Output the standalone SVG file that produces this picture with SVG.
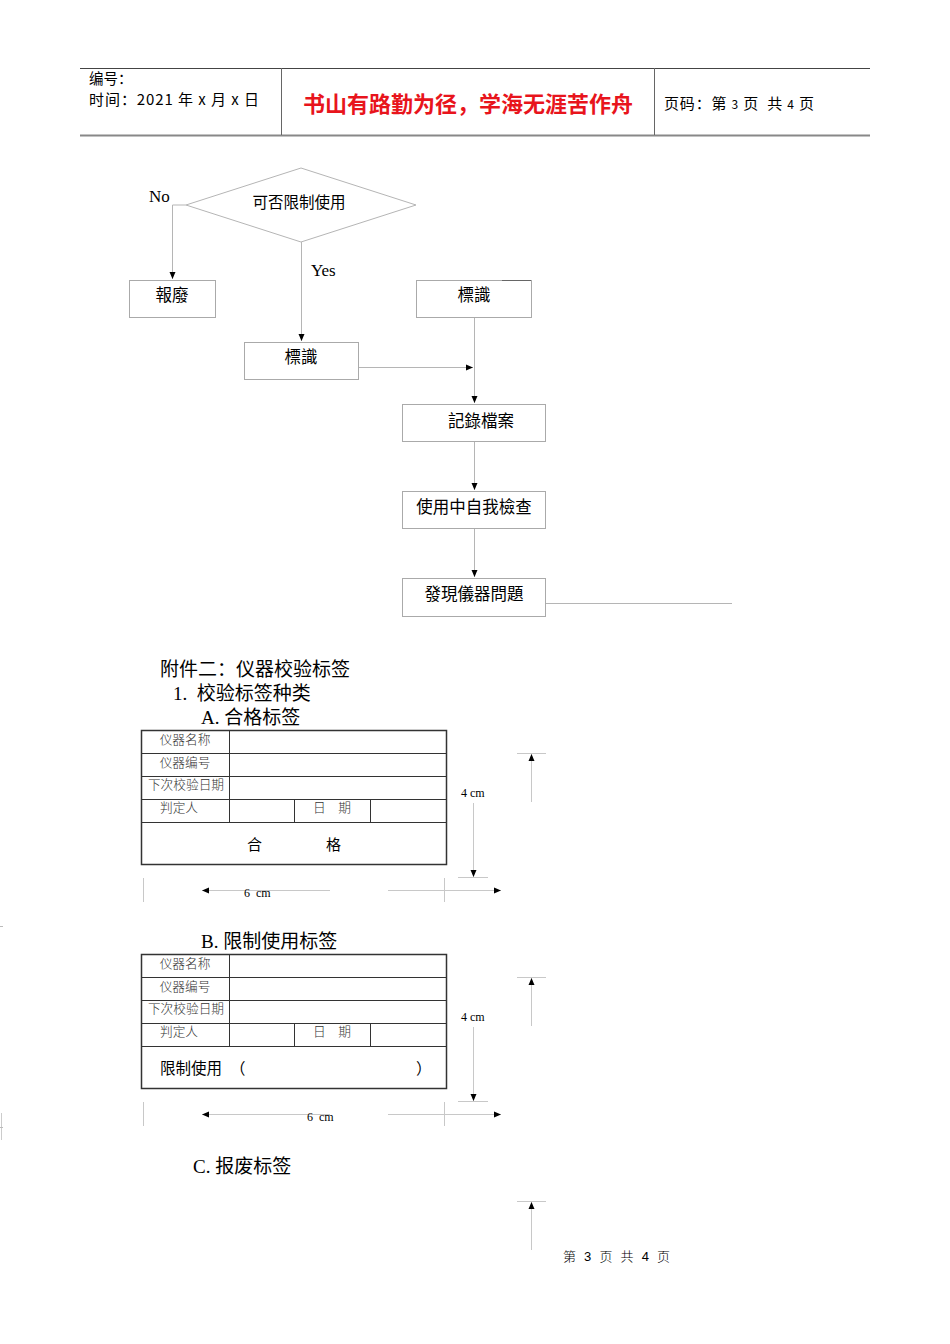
<svg xmlns="http://www.w3.org/2000/svg" width="950" height="1344" viewBox="0 0 950 1344">
<style>
.sans{font-family:"Liberation Sans","Noto Sans CJK SC",sans-serif;fill:#000}
.cjk{font-family:"Noto Sans CJK SC",sans-serif;fill:#000}
.cjktc{font-family:"Noto Sans CJK TC",sans-serif;fill:#000}
.serif{font-family:"Liberation Serif","Noto Sans CJK SC",serif;fill:#000}
.box{fill:#fff;stroke:#aaa;stroke-width:1}
.conn{fill:none;stroke:#b5b5b5;stroke-width:1}
.tbl{fill:none;stroke:#333;stroke-width:1}
.dim{fill:none;stroke:#c8c8c8;stroke-width:1}
.cell{font-family:"Noto Sans CJK SC",sans-serif;font-size:12.7px;fill:#333;font-weight:300}
.pre{white-space:pre}
</style>
<defs>
<marker id="ah" markerWidth="8" markerHeight="8" refX="7" refY="4" orient="auto" markerUnits="userSpaceOnUse">
<path d="M0,1 L7,4 L0,7 Z" fill="#000"/>
</marker>
</defs>
<rect x="0" y="0" width="950" height="1344" fill="#fff"/>

<g id="header">
<line x1="80" y1="68.5" x2="870" y2="68.5" stroke="#444" stroke-width="1"/>
<line x1="80" y1="135.5" x2="870" y2="135.5" stroke="#888" stroke-width="2"/>
<line x1="281.5" y1="68" x2="281.5" y2="135" stroke="#666" stroke-width="1"/>
<line x1="654.5" y1="68" x2="654.5" y2="135" stroke="#666" stroke-width="1"/>
<text class="cjk" x="89" y="84" font-size="14.5">编号：</text>
<text class="cjk pre" x="89" y="105" font-size="15" xml:space="preserve" textLength="170" lengthAdjust="spacing">时间：2021 年 x 月 x 日</text>
<text x="468" y="112" font-size="22" text-anchor="middle" font-family="Noto Sans CJK SC,sans-serif" font-weight="bold" fill="#e8141c">书山有路勤为径，学海无涯苦作舟</text>
<text class="cjk pre" x="664" y="109" font-size="15" xml:space="preserve" textLength="150" lengthAdjust="spacing">页码：第 <tspan font-size="12">3</tspan> 页  共 <tspan font-size="12">4</tspan> 页</text>
</g>

<g id="connectors">
<polyline class="conn" points="186,205 172.5,205 172.5,279" marker-end="url(#ah)"/>
<line class="conn" x1="301.5" y1="242" x2="301.5" y2="341" marker-end="url(#ah)"/>
<line class="conn" x1="358" y1="367.5" x2="473" y2="367.5" marker-end="url(#ah)"/>
<line class="conn" x1="474.5" y1="317" x2="474.5" y2="403" marker-end="url(#ah)"/>
<line class="conn" x1="474.5" y1="441" x2="474.5" y2="490" marker-end="url(#ah)"/>
<line class="conn" x1="474.5" y1="528" x2="474.5" y2="577" marker-end="url(#ah)"/>
<line class="conn" x1="545" y1="603.5" x2="732" y2="603.5"/>
<text class="serif" x="149" y="202" font-size="17">No</text>
<text class="serif" x="311" y="276" font-size="17">Yes</text>
</g>

<g id="decision">
<polygon points="301,168 416,205 301,242 186,205" fill="#fff" stroke="#b5b5b5" stroke-width="1"/>
<text class="cjktc" x="299" y="208" font-size="15.5" text-anchor="middle">可否限制使用</text>
</g>

<g id="scrap">
<rect class="box" x="129.5" y="280.5" width="86" height="37"/>
<text class="cjktc" x="172" y="301" font-size="16.5" text-anchor="middle">報廢</text>
</g>

<g id="mark-left">
<rect class="box" x="244.5" y="342.5" width="114" height="37"/>
<text class="cjktc" x="301" y="363" font-size="16.5" text-anchor="middle">標識</text>
</g>

<g id="mark-right">
<rect class="box" x="416.5" y="280.5" width="115" height="37"/>
<line x1="502" y1="280.5" x2="531" y2="280.5" stroke="#666" stroke-width="1"/>
<text class="cjktc" x="474" y="301" font-size="16.5" text-anchor="middle">標識</text>
</g>

<g id="record">
<rect class="box" x="402.5" y="404.5" width="143" height="37"/>
<text class="cjktc" x="481" y="427" font-size="16.5" text-anchor="middle">記錄檔案</text>
</g>

<g id="selfcheck">
<rect class="box" x="402.5" y="491.5" width="143" height="37"/>
<text class="cjktc" x="474" y="513" font-size="16.5" text-anchor="middle">使用中自我檢查</text>
</g>

<g id="problem">
<rect class="box" x="402.5" y="578.5" width="143" height="38"/>
<text class="cjktc" x="474" y="600" font-size="16.5" text-anchor="middle">發現儀器問題</text>
</g>

<g id="section">
<text class="serif" x="160" y="676" font-size="19">附件二：仪器校验标签</text>
<text class="serif pre" x="173" y="700" font-size="19" xml:space="preserve">1.  校验标签种类</text>
<text class="serif" x="201" y="724" font-size="19">A. 合格标签</text>
</g>

<g id="label-a">
<rect x="141.5" y="730.5" width="305" height="134" fill="none" stroke="#333" stroke-width="1.5"/>
<line class="tbl" x1="141" y1="753.5" x2="446" y2="753.5"/>
<line class="tbl" x1="141" y1="776.5" x2="446" y2="776.5"/>
<line class="tbl" x1="141" y1="799.5" x2="446" y2="799.5"/>
<line class="tbl" x1="141" y1="822.5" x2="446" y2="822.5"/>
<line class="tbl" x1="229.5" y1="730" x2="229.5" y2="822"/>
<line class="tbl" x1="294.5" y1="799" x2="294.5" y2="822"/>
<line class="tbl" x1="370.5" y1="799" x2="370.5" y2="822"/>
<text class="cell" x="185" y="744" text-anchor="middle">仪器名称</text>
<text class="cell" x="185" y="767" text-anchor="middle">仪器编号</text>
<text class="cell" x="186" y="789" text-anchor="middle">下次校验日期</text>
<text class="cell" x="179" y="812" text-anchor="middle">判定人</text>
<text class="cell" x="332" y="812" text-anchor="middle">日　期</text>
<text class="cjk" x="247" y="850" font-size="15" fill="#333">合</text>
<text class="cjk" x="326" y="850" font-size="15" fill="#333">格</text>
</g>

<g id="dims-a">
<line class="dim" x1="143.5" y1="878" x2="143.5" y2="902"/>
<line class="dim" x1="444.5" y1="878" x2="444.5" y2="902"/>
<line class="dim" x1="330" y1="890.5" x2="202" y2="890.5" marker-end="url(#ah)"/>
<line class="dim" x1="388" y1="890.5" x2="501" y2="890.5" marker-end="url(#ah)"/>
<text class="serif pre" x="244" y="897" font-size="12" xml:space="preserve">6  cm</text>
<text class="serif" x="461" y="797" font-size="12">4 cm</text>
<line class="dim" x1="473.5" y1="803" x2="473.5" y2="877" marker-end="url(#ah)"/>
<line class="dim" x1="458" y1="877.5" x2="488" y2="877.5"/>
<line class="dim" x1="531.5" y1="802" x2="531.5" y2="754" marker-end="url(#ah)"/>
<line class="dim" x1="517" y1="753.5" x2="546" y2="753.5"/>
</g>

<g id="heading-b">
<text class="serif" x="201" y="948" font-size="19">B. 限制使用标签</text>
</g>

<g id="label-b">
<rect x="141.5" y="954.5" width="305" height="134" fill="none" stroke="#333" stroke-width="1.5"/>
<line class="tbl" x1="141" y1="977.5" x2="446" y2="977.5"/>
<line class="tbl" x1="141" y1="1000.5" x2="446" y2="1000.5"/>
<line class="tbl" x1="141" y1="1023.5" x2="446" y2="1023.5"/>
<line class="tbl" x1="141" y1="1046.5" x2="446" y2="1046.5"/>
<line class="tbl" x1="229.5" y1="954" x2="229.5" y2="1046"/>
<line class="tbl" x1="294.5" y1="1023" x2="294.5" y2="1046"/>
<line class="tbl" x1="370.5" y1="1023" x2="370.5" y2="1046"/>
<text class="cell" x="185" y="968" text-anchor="middle">仪器名称</text>
<text class="cell" x="185" y="991" text-anchor="middle">仪器编号</text>
<text class="cell" x="186" y="1013" text-anchor="middle">下次校验日期</text>
<text class="cell" x="179" y="1036" text-anchor="middle">判定人</text>
<text class="cell" x="332" y="1036" text-anchor="middle">日　期</text>
<text class="cjk" x="160" y="1074" font-size="15.5" fill="#333">限制使用</text>
<text class="cjk" x="230" y="1074" font-size="15.5" fill="#333">（</text>
<text class="cjk" x="416" y="1074" font-size="15.5" fill="#333">）</text>
</g>

<g id="dims-b">
<line class="dim" x1="143.5" y1="1102" x2="143.5" y2="1126"/>
<line class="dim" x1="444.5" y1="1102" x2="444.5" y2="1126"/>
<line class="dim" x1="330" y1="1114.5" x2="202" y2="1114.5" marker-end="url(#ah)"/>
<line class="dim" x1="388" y1="1114.5" x2="501" y2="1114.5" marker-end="url(#ah)"/>
<text class="serif pre" x="307" y="1121" font-size="12" xml:space="preserve">6  cm</text>
<text class="serif" x="461" y="1021" font-size="12">4 cm</text>
<line class="dim" x1="473.5" y1="1027" x2="473.5" y2="1101" marker-end="url(#ah)"/>
<line class="dim" x1="458" y1="1101.5" x2="488" y2="1101.5"/>
<line class="dim" x1="531.5" y1="1026" x2="531.5" y2="978" marker-end="url(#ah)"/>
<line class="dim" x1="517" y1="977.5" x2="546" y2="977.5"/>
</g>

<g id="heading-c">
<text class="serif" x="193" y="1173" font-size="19">C. 报废标签</text>
<line class="dim" x1="531.5" y1="1250" x2="531.5" y2="1202" marker-end="url(#ah)"/>
<line class="dim" x1="517" y1="1201.5" x2="546" y2="1201.5"/>
</g>

<g id="margin-marks">
<line x1="0" y1="926.5" x2="3" y2="926.5" stroke="#bbb" stroke-width="1"/>
<line x1="1.5" y1="1113" x2="1.5" y2="1140" stroke="#ccc" stroke-width="1"/>
<line x1="0" y1="1127.5" x2="3" y2="1127.5" stroke="#bbb" stroke-width="1"/>
</g>

<g id="footer">
<text class="cjk pre" x="563" y="1261" font-size="13" fill="#444" font-weight="300" xml:space="preserve" textLength="107" lengthAdjust="spacing">第  <tspan font-family="Liberation Sans">3</tspan>  页  共  <tspan font-family="Liberation Sans">4</tspan>  页</text>
</g>
</svg>
